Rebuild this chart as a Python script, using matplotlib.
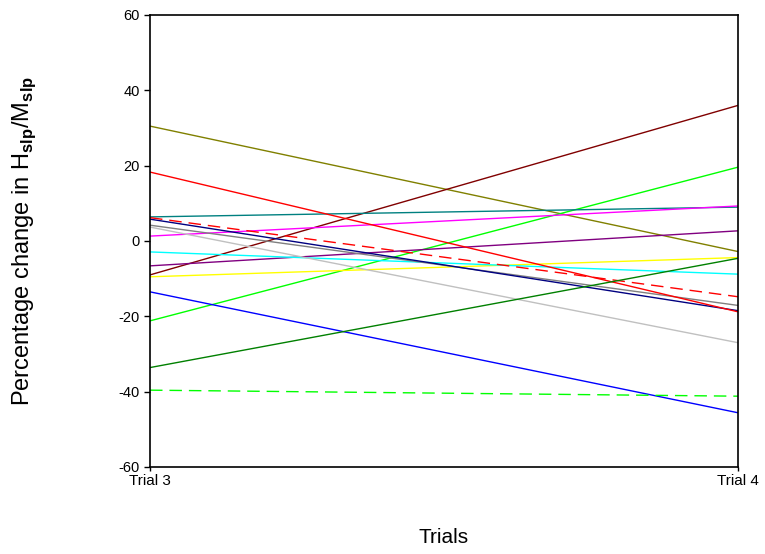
import numpy as np
import matplotlib
matplotlib.use("Agg")
import matplotlib.pyplot as plt

plt.rcParams['font.family'] = ['Liberation Sans', 'DejaVu Sans']
plt.rcParams['mathtext.fontset'] = 'custom'
plt.rcParams['mathtext.rm'] = 'Liberation Sans'
plt.rcParams['mathtext.bf'] = 'Liberation Sans:bold'
plt.rcParams['axes.unicode_minus'] = False

# trials on x axis
trials = ["Trial 3", "Trial 4"]

# percentage change per subject (trial 3, trial 4)
olive = [30.5, -2.8]
red = [18.3, -18.8]
maroon = [-9.0, 36.0]
lime = [-21.2, 19.6]
teal = [6.4, 9.0]
magenta = [1.3, 9.3]
purple = [-6.6, 2.7]
yellow = [-9.5, -4.4]
cyan = [-2.9, -8.8]
red_dash = [6.2, -14.8]
gray = [4.2, -17.1]
navy = [5.8, -18.5]
silver = [3.7, -27.0]
blue = [-13.5, -45.6]
green = [-33.6, -4.6]
lime_dash = [-39.6, -41.2]

series = [
    (olive, '#808000', '-'),
    (maroon, '#800000', '-'),
    (lime, '#00ff00', '-'),
    (teal, '#008080', '-'),
    (magenta, '#ff00ff', '-'),
    (purple, '#800080', '-'),
    (yellow, '#ffff00', '-'),
    (cyan, '#00ffff', '-'),
    (gray, '#808080', '-'),
    (silver, '#c0c0c0', '-'),
    (navy, '#000080', '-'),
    (red, '#ff0000', '-'),
    (red_dash, '#ff0000', '--'),
    (blue, '#0000ff', '-'),
    (green, '#008000', '-'),
    (lime_dash, '#00ff00', '--'),
]

fig = plt.figure(figsize=(7.65, 5.54), dpi=100)
ax = fig.add_axes([150 / 765, 87 / 554, 588 / 765, 452 / 554])

x = np.arange(len(trials))
for vals, col, ls in series:
    line, = ax.plot(x, vals, color=col, lw=1.0, ls=ls)
    if ls == '--':
        line.set_dashes((9, 5))

ax.set_xlim(0, 1)
ax.set_ylim(-60, 60)
ax.set_xticks(x)
ax.set_xticklabels(trials, fontsize=11)
ax.set_yticks(np.arange(-60, 61, 20))
ax.tick_params(axis='y', labelsize=10.5, direction='out', length=4, width=1)
ax.tick_params(axis='x', direction='out', length=3, width=1, pad=2)
for s in ax.spines.values():
    s.set_linewidth(1.2)

ax.set_xlabel("Trials", fontsize=15)
ax.xaxis.set_label_coords(0.5, -0.135)
ax.set_ylabel(r"Percentage change in H$_{\mathbf{slp}}$/M$_{\mathbf{slp}}$", fontsize=17)
ax.yaxis.set_label_coords(-0.19, 0.5)

fig.savefig("out.png", dpi=100)
